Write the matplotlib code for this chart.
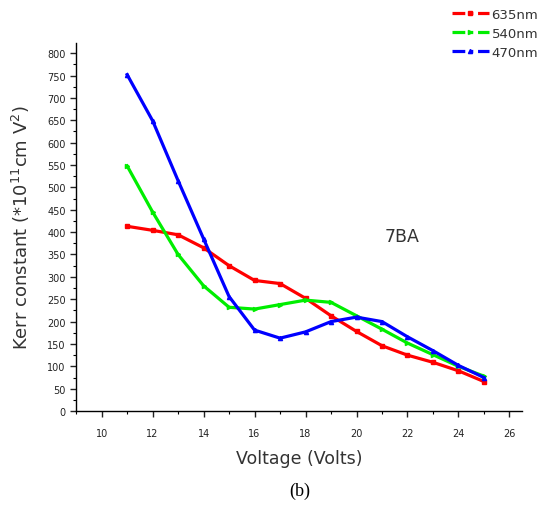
import matplotlib.pyplot as plt
from matplotlib.ticker import MultipleLocator

# Voltages at which Kerr constant was measured
voltage = [11, 12, 13, 14, 15, 16, 17, 18, 19, 20, 21, 22, 23, 24, 25]

kerr_635 = [413, 404, 394, 365, 325, 292, 285, 252, 213, 178, 146, 125, 109, 90, 66]
kerr_540 = [548, 445, 350, 280, 232, 228, 238, 248, 243, 213, 183, 152, 126, 100, 78]
kerr_470 = [752, 649, 515, 385, 256, 181, 163, 177, 200, 210, 200, 166, 135, 102, 75]

series = [
    ("635nm", kerr_635, "#ff0000", "s"),
    ("540nm", kerr_540, "#00ee00", ">"),
    ("470nm", kerr_470, "#0000ff", "^"),
]

fig = plt.figure(figsize=(5.4, 5.1), dpi=100)
ax = fig.add_axes([0.141, 0.192, 0.826, 0.722])

for label, values, color, marker in series:
    ax.plot(voltage, values, color=color, linewidth=2.3, marker=marker,
            markersize=3, label=label)

ax.set_xlim(9, 26.5)
ax.set_ylim(0, 823)
ax.xaxis.set_major_locator(MultipleLocator(2))
ax.xaxis.set_minor_locator(MultipleLocator(1))
ax.yaxis.set_major_locator(MultipleLocator(50))
ax.yaxis.set_minor_locator(MultipleLocator(25))
ax.set_xticks(range(10, 27, 2))

for side in ("top", "right"):
    ax.spines[side].set_visible(False)
for side in ("left", "bottom"):
    ax.spines[side].set_linewidth(1.0)

ax.tick_params(which="major", length=4, width=1.0, labelsize=7, colors="#222222")
ax.tick_params(which="minor", length=2.5, width=0.8)
ax.tick_params(axis="x", pad=8)

ax.set_xlabel("Voltage (Volts)", fontsize=12.5, color="#333333", labelpad=8)
ax.set_ylabel("Kerr constant (*10$^{11}$cm V$^{2}$)", fontsize=13,
              color="#333333", labelpad=11)

ax.text(21.8, 391, "7BA", fontsize=12.5, color="#333333", ha="center", va="center")

# legend sits in the top-right corner, outside the axes
handles = [
    plt.Line2D([], [], color=c, linewidth=2.3, linestyle=(0, (4, 1.5, 1, 1.5)),
               marker=m, markersize=3)
    for _, _, c, m in series
]
fig.legend(handles, [s[0] for s in series], loc="upper left",
           bbox_to_anchor=(0.815, 1.006), frameon=False, fontsize=9.5,
           handlelength=2.8, handletextpad=0.2, labelspacing=0.45,
           labelcolor="#333333")

fig.text(0.555, 0.027, "(b)", fontsize=13, family="Liberation Serif", ha="center")

fig.savefig("out.png", dpi=100)
